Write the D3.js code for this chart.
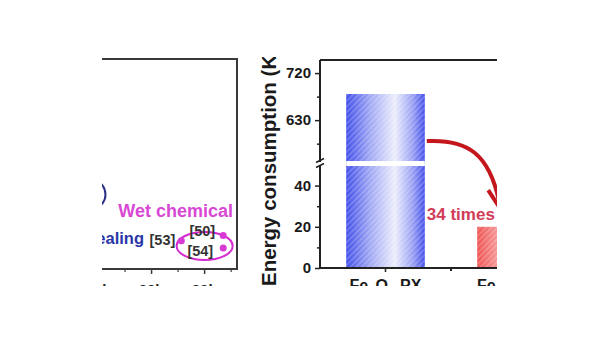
<!DOCTYPE html>
<html>
<head>
<meta charset="utf-8">
<script src="https://cdn.jsdelivr.net/npm/d3@7"></script>
<style>
  html, body { margin: 0; padding: 0; background: #fff; }
  svg { display: block; font-family: "Liberation Sans", Arial, sans-serif; font-weight: bold; }
</style>
</head>
<body>
<svg id="chart"></svg>
<script>
// right panel: energy consumption bars
const categories = ["Fe₃O₄ PX", "Fe₃O₄ MW"];
const energy = [680, 20];
const upperTicks = [630, 720];
const upperMinor = [585, 675];
const lowerTicks = [0, 20, 40];
const lowerMinor = [10, 30];

// left panel: partial scatter (only the right edge is in frame)
const wetHours = [25.7, 33.6, 33.6];
const wetValues = [1.35, 1.6, 1.0];
const wetRefs = ["[53]", "[50]", "[54]"];
const leftTicks = [10, 20, 30];
const leftTickLabels = ["10h", "20h", "30h"];

const width = 600, height = 338;

const svg = d3.select("#chart")
    .attr("width", width)
    .attr("height", height)
    .attr("viewBox", `0 0 ${width} ${height}`);

const defs = svg.append("defs");

defs.append("clipPath").attr("id", "frame")
    .append("rect").attr("x", 102).attr("y", 57).attr("width", 395).attr("height", 229);

function barGradient(id, edge, mid) {
    const g = defs.append("linearGradient").attr("id", id)
        .attr("x1", "0%").attr("x2", "100%").attr("y1", "0%").attr("y2", "0%");
    g.append("stop").attr("offset", "0%").attr("stop-color", edge);
    g.append("stop").attr("offset", "30%").attr("stop-color", d3.interpolateRgb(edge, mid)(0.55));
    g.append("stop").attr("offset", "62%").attr("stop-color", mid);
    g.append("stop").attr("offset", "85%").attr("stop-color", d3.interpolateRgb(edge, mid)(0.5));
    g.append("stop").attr("offset", "100%").attr("stop-color", edge);
}
barGradient("gradBlue", "#4552ea", "#eceefc");
barGradient("gradRed", "#f05656", "#fde6e6");

const hatch = defs.append("pattern").attr("id", "hatch")
    .attr("patternUnits", "userSpaceOnUse").attr("width", 4).attr("height", 4)
    .attr("patternTransform", "rotate(45)");
hatch.append("line").attr("x1", 0).attr("y1", 0).attr("x2", 0).attr("y2", 4)
    .attr("stroke", "#ffffff").attr("stroke-width", 1.2).attr("stroke-opacity", 0.45);

const chart = svg.append("g").attr("clip-path", "url(#frame)");

// ---------- left panel ----------
const xl = d3.scaleLinear().domain([0, 36.2]).range([45, 237]);
const yl = d3.scaleLinear().domain([0, 10]).range([269, 59]);

const left = chart.append("g");
left.append("rect")
    .attr("x", xl(0)).attr("y", yl(10))
    .attr("width", xl(36.2) - xl(0)).attr("height", yl(0) - yl(10))
    .attr("fill", "none").attr("stroke", "#3a3a3a").attr("stroke-width", 2);

left.append("g")
    .attr("transform", `translate(0,${yl(0)})`)
    .call(d3.axisBottom(xl).tickValues(leftTicks).tickSize(5)
        .tickFormat((d, i) => leftTickLabels[i]))
    .call(g => g.select(".domain").remove())
    .call(g => g.selectAll("line").attr("stroke", "#3a3a3a").attr("stroke-width", 1.5))
    .call(g => g.selectAll("text").attr("font-size", 15).attr("fill", "#222").attr("dy", "1.2em"));
left.append("g")
    .attr("transform", `translate(0,${yl(0)})`)
    .call(d3.axisBottom(xl).tickValues([5, 15, 25, 35]).tickSize(3).tickFormat(""))
    .call(g => g.select(".domain").remove())
    .call(g => g.selectAll("line").attr("stroke", "#3a3a3a").attr("stroke-width", 1.2));

// annealing group outline (dark blue), mostly out of frame
left.append("ellipse")
    .attr("cx", xl(6.5)).attr("cy", yl(3.55))
    .attr("rx", 26).attr("ry", 19)
    .attr("fill", "none").attr("stroke", "#2b2f86").attr("stroke-width", 2);
left.append("text")
    .attr("x", 144).attr("y", 244)
    .attr("text-anchor", "end")
    .attr("font-size", 16.5).attr("fill", "#2a36a8")
    .text("Annealing");

// wet chemical group
left.append("ellipse")
    .attr("cx", xl(30.1)).attr("cy", yl(1.1))
    .attr("rx", 28).attr("ry", 14)
    .attr("fill", "none").attr("stroke", "#d62ad0").attr("stroke-width", 2);
left.selectAll("circle.wet")
    .data(wetHours)
    .join("circle")
    .attr("class", "wet")
    .attr("cx", d => xl(d))
    .attr("cy", (d, i) => yl(wetValues[i]))
    .attr("r", 3.5)
    .attr("fill", "#d83ad4");
const refOffsets = [[-6, 4], [-8, 0.5], [-10, 8]];
left.selectAll("text.ref")
    .data(wetRefs)
    .join("text")
    .attr("class", "ref")
    .attr("x", (d, i) => xl(wetHours[i]) + refOffsets[i][0])
    .attr("y", (d, i) => yl(wetValues[i]) + refOffsets[i][1])
    .attr("text-anchor", "end")
    .attr("font-size", 14.5).attr("fill", "#333")
    .text(d => d);
left.append("text")
    .attr("x", 233).attr("y", 217)
    .attr("text-anchor", "end")
    .attr("font-size", 18).attr("fill", "#d848d4")
    .text("Wet chemical");

// ---------- right panel ----------
const x = d3.scaleBand().domain(categories).range([320, 582])
    .paddingInner(0.4).paddingOuter(0.2);
const yUp = d3.scaleLinear().domain([550, 745]).range([162, 60]);
const yLow = d3.scaleLinear().domain([0, 50]).range([268, 165]);

const right = chart.append("g");

right.append("path")
    .attr("d", `M320,${yUp(745)} H600`)
    .attr("stroke", "#222").attr("stroke-width", 2).attr("fill", "none");

const bars = right.selectAll("g.bar")
    .data(categories)
    .join("g")
    .attr("class", "bar");
bars.append("rect")
    .attr("x", d => x(d))
    .attr("width", x.bandwidth())
    .attr("y", (d, i) => energy[i] > 50 ? yUp(energy[i]) : yLow(energy[i]))
    .attr("height", (d, i) => yLow(0) - (energy[i] > 50 ? yUp(energy[i]) : yLow(energy[i])))
    .attr("fill", (d, i) => i === 0 ? "url(#gradBlue)" : "url(#gradRed)");
bars.append("rect")
    .attr("x", d => x(d))
    .attr("width", x.bandwidth())
    .attr("y", (d, i) => energy[i] > 50 ? yUp(energy[i]) : yLow(energy[i]))
    .attr("height", (d, i) => yLow(0) - (energy[i] > 50 ? yUp(energy[i]) : yLow(energy[i])))
    .attr("fill", "url(#hatch)");

// white gap where the axis is broken
right.append("rect")
    .attr("x", x(categories[0])).attr("width", x.bandwidth())
    .attr("y", yUp(550) - 1).attr("height", yLow(50) - yUp(550) + 2)
    .attr("fill", "#fff");

function styleAxis(g, size) {
    g.select(".domain").remove();
    g.selectAll("line").attr("stroke", "#222").attr("stroke-width", 1.5);
    g.selectAll("text").attr("font-size", size).attr("fill", "#1a1a1a");
}

right.append("g")
    .attr("transform", "translate(320,0)")
    .call(d3.axisLeft(yUp).tickValues(upperTicks).tickSize(5).tickPadding(4))
    .call(g => styleAxis(g, 15));
right.append("g")
    .attr("transform", "translate(320,0)")
    .call(d3.axisLeft(yLow).tickValues(lowerTicks).tickSize(5).tickPadding(4))
    .call(g => styleAxis(g, 15));
right.append("g")
    .attr("transform", "translate(320,0)")
    .call(d3.axisLeft(yUp).tickValues(upperMinor).tickSize(3).tickFormat(""))
    .call(g => styleAxis(g, 15));
right.append("g")
    .attr("transform", "translate(320,0)")
    .call(d3.axisLeft(yLow).tickValues(lowerMinor).tickSize(3).tickFormat(""))
    .call(g => styleAxis(g, 15));

// y axis line with break marks
right.append("path")
    .attr("d", `M320,${yUp(745)} V${yUp(550)} M320,${yLow(50)} V${yLow(0)}`)
    .attr("stroke", "#222").attr("stroke-width", 2).attr("fill", "none");
const bk = (yUp(550) + yLow(50)) / 2;
right.append("path")
    .attr("d", `M316,${bk - 1} L324,${bk - 5} M316,${bk + 4} L324,${bk}`)
    .attr("stroke", "#222").attr("stroke-width", 1.6);

// x axis
right.append("g")
    .attr("transform", `translate(0,${yLow(0)})`)
    .call(d3.axisBottom(x).tickSize(4).tickPadding(5))
    .call(g => styleAxis(g, 16))
    .call(g => g.selectAll("text").attr("dy", "0.9em"));
right.append("path")
    .attr("d", `M320,${yLow(0)} H600 M${x.step() / 2 + x(categories[0]) + x.bandwidth() / 2},${yLow(0)} v3`)
    .attr("stroke", "#222").attr("stroke-width", 2);

right.append("text")
    .attr("transform", `translate(276,286) rotate(-90)`)
    .attr("font-size", 20.5).attr("fill", "#1a1a1a")
    .text("Energy consumption (KJ)");

// arrow from blue bar to red bar
const ax0 = x(categories[0]) + x.bandwidth() + 2, ay0 = yUp(590);
const ax1 = x(categories[1]) + 22, ay1 = yLow(32);
right.append("path")
    .attr("d", `M${ax0},${ay0} C${ax0 + 40},${ay0 - 2} ${ax1 - 10},${ay0 + 12} ${ax1},${ay1}`)
    .attr("fill", "none").attr("stroke", "#c3161d").attr("stroke-width", 4);
right.append("path")
    .attr("d", `M${ax1 - 11},${ay1 - 12} L${ax1 + 2},${ay1 + 8} L${ax1 + 12},${ay1 - 14}`)
    .attr("fill", "none").attr("stroke", "#c3161d").attr("stroke-width", 4)
    .attr("stroke-linejoin", "miter");

right.append("text")
    .attr("x", ax0).attr("y", 220)
    .attr("font-size", 17).attr("fill", "#d23c58")
    .text("34 times lower");
</script>
</body>
</html>
